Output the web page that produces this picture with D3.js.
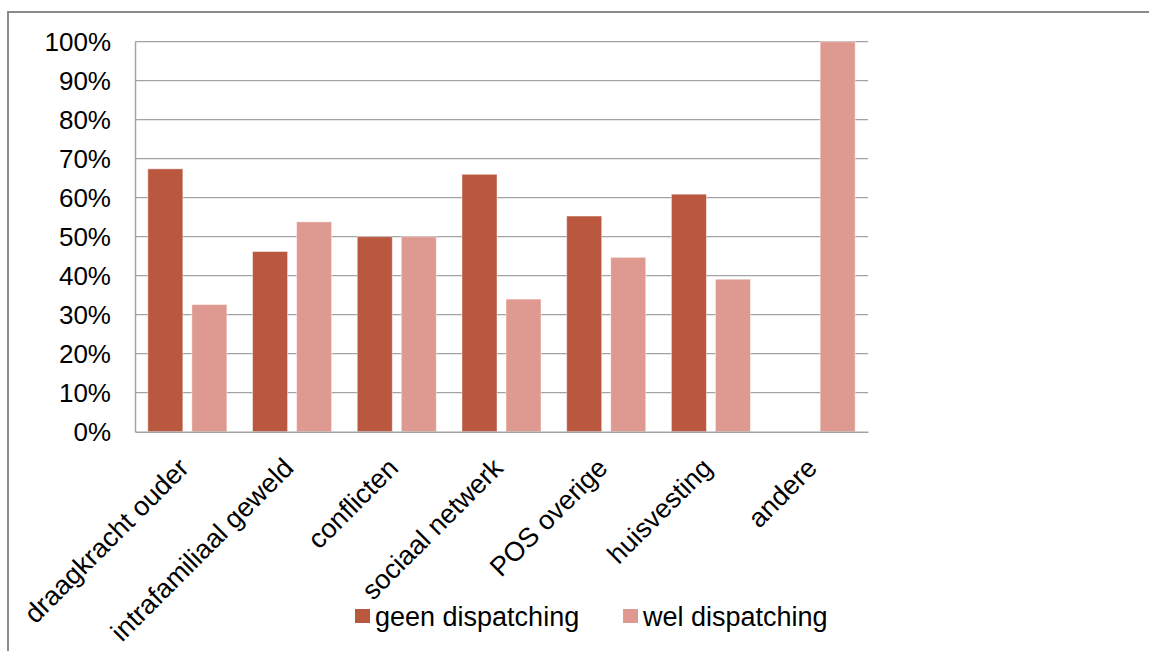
<!DOCTYPE html>
<html>
<head>
<meta charset="utf-8">
<script src="https://cdn.jsdelivr.net/npm/d3@7"></script>
<style>
  html, body { margin: 0; padding: 0; background: #fff; }
  svg { display: block; }
  text { font-family: "Liberation Sans", Arial, sans-serif; fill: #000; }
</style>
</head>
<body>
<svg id="chart" width="1149" height="651"></svg>
<script>
// Categories (x axis)
const categories = [
  "draagkracht ouder",
  "intrafamiliaal geweld",
  "conflicten",
  "sociaal netwerk",
  "POS overige",
  "huisvesting",
  "andere"
];

// Series names and shares per category (fractions)
const seriesNames = ["geen dispatching", "wel dispatching"];
const geenDispatching = [0.674, 0.462, 0.50, 0.66, 0.553, 0.609, 0.0];
const welDispatching  = [0.326, 0.538, 0.50, 0.34, 0.447, 0.391, 1.0];

// Y axis ticks
const yTicks = [0, 0.1, 0.2, 0.3, 0.4, 0.5, 0.6, 0.7, 0.8, 0.9, 1.0];

const colors = ["#B9573F", "#DE9A91"];

const svg = d3.select("#chart");

// Outer chart frame
svg.append("rect")
  .attr("x", 8).attr("y", 12)
  .attr("width", 1200).attr("height", 700)
  .attr("fill", "none")
  .attr("stroke", "#8a8a8a")
  .attr("stroke-width", 2);

const plot = { left: 135, right: 868, top: 41.7, bottom: 431.7 };

const x = d3.scaleBand()
  .domain(categories)
  .range([plot.left, plot.right])
  .paddingInner(0.245)
  .paddingOuter(0.1225);

const xs = d3.scaleBand()
  .domain(seriesNames)
  .range([0, x.bandwidth()])
  .paddingInner(0.2045);

const y = d3.scaleLinear()
  .domain([0, 1])
  .range([plot.bottom, plot.top]);

// Horizontal gridlines
svg.append("g")
  .selectAll("line")
  .data(yTicks.filter(t => t > 0))
  .join("line")
  .attr("x1", plot.left).attr("x2", plot.right)
  .attr("y1", d => y(d)).attr("y2", d => y(d))
  .attr("stroke", "#a3a3a3")
  .attr("stroke-width", 1.3);

// Bars
const rows = categories.map((c, i) => ({ cat: c, values: [geenDispatching[i], welDispatching[i]] }));
const groups = svg.append("g")
  .selectAll("g")
  .data(rows)
  .join("g")
  .attr("transform", d => `translate(${x(d.cat)},0)`);

groups.selectAll("rect")
  .data(d => d.values.map((v, k) => ({ key: seriesNames[k], v, k })))
  .join("rect")
  .filter(d => d.v > 0)
  .attr("x", d => xs(d.key))
  .attr("width", xs.bandwidth())
  .attr("y", d => y(d.v))
  .attr("height", d => y(0) - y(d.v))
  .attr("fill", d => colors[d.k])
  .attr("stroke", "rgba(255,255,255,0.45)")
  .attr("stroke-width", 1);

// Y axis
const yAxis = d3.axisLeft(y)
  .tickValues(yTicks)
  .tickFormat(d3.format(".0%"))
  .tickSize(0)
  .tickPadding(24);

const gy = svg.append("g")
  .attr("transform", `translate(${plot.left},0)`)
  .call(yAxis);
gy.select(".domain").attr("stroke", "#a3a3a3").attr("stroke-width", 1.5);
gy.selectAll("text")
  .style("font-size", "26px")
  .style("font-family", "'Liberation Sans', Arial, sans-serif")
  .attr("fill", "#000");

// X axis with rotated category labels
const xAxis = d3.axisBottom(x).tickSize(0).tickPadding(0);
const gx = svg.append("g")
  .attr("transform", `translate(0,${plot.bottom})`)
  .call(xAxis);
gx.select(".domain").attr("stroke", "#a3a3a3").attr("stroke-width", 1.5);
gx.selectAll("text")
  .style("font-size", "27px")
  .style("font-family", "'Liberation Sans', Arial, sans-serif")
  .attr("fill", "#000")
  .attr("text-anchor", "end")
  .attr("dy", 0)
  .attr("transform", "translate(3,38) rotate(-45)");

// Legend
const legend = svg.append("g").attr("transform", "translate(355,609)");
const legendX = [0, 268];
seriesNames.forEach((name, i) => {
  const g = legend.append("g").attr("transform", `translate(${legendX[i]},0)`);
  g.append("rect")
    .attr("width", 15).attr("height", 14)
    .attr("fill", colors[i]);
  g.append("text")
    .attr("x", 20).attr("y", 17)
    .style("font-size", "27px")
    .text(name);
});
</script>
</body>
</html>
